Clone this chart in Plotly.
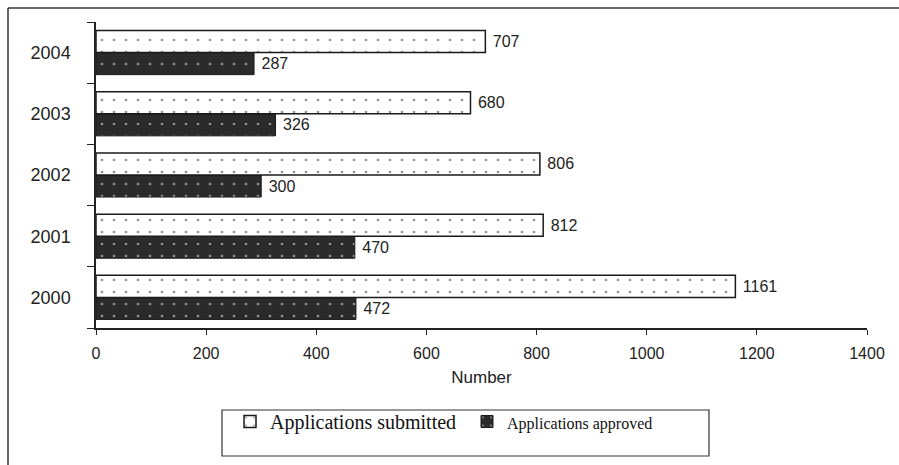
import plotly.graph_objects as go

years = ["2000", "2001", "2002", "2003", "2004"]
submitted = [1161, 812, 806, 680, 707]
approved = [472, 470, 300, 326, 287]
x_ticks = [0, 200, 400, 600, 800, 1000, 1200, 1400]

W, H = 899, 465
L, R, T, B = 96, 32, 22, 137
pw, ph = W - L - R, H - T - B

def px(x):
    return (x - L) / pw

def py(y):
    return (H - B - y) / ph

label_font = dict(family="Liberation Sans, Arial", size=16, color="#222")

fig = go.Figure()
fig.add_trace(go.Bar(
    y=years, x=approved, orientation="h",
    name="<span style='font-size:16px'>Applications approved</span>",
    marker=dict(color="#2b2b2b", line=dict(color="#1a1a1a", width=1),
                pattern=dict(shape=".", fgcolor="white", fillmode="overlay", size=12, solidity=0.04)),
    text=approved, texttemplate=" %{text}", textposition="outside", cliponaxis=False,
    textfont=label_font,
    legendrank=2,
))
fig.add_trace(go.Bar(
    y=years, x=submitted, orientation="h", name="Applications submitted",
    marker=dict(color="white", line=dict(color="#1a1a1a", width=1.5),
                pattern=dict(shape=".", fgcolor="#222", fillmode="overlay", size=12, solidity=0.04)),
    text=submitted, texttemplate=" %{text}", textposition="outside", cliponaxis=False,
    textfont=label_font,
    legendrank=1,
))

fig.update_layout(
    width=W, height=H,
    margin=dict(l=L, r=R, t=T, b=B, autoexpand=False),
    paper_bgcolor="white", plot_bgcolor="white",
    barmode="group", bargap=0.28, bargroupgap=0,
    font=dict(family="Liberation Sans, Arial", size=15, color="#222"),
    xaxis=dict(range=[0, 1400], tickvals=x_ticks, showgrid=False, zeroline=False,
               showline=True, linecolor="#222", linewidth=1.5, ticks="outside", ticklen=5,
               tickcolor="#222", tickfont=dict(size=16), ticklabelstandoff=5,
               title=dict(text="Number", font=dict(size=17), standoff=10)),
    yaxis=dict(type="category", range=[-0.5, 4.5], showgrid=False, zeroline=False,
               showline=True, linecolor="#222", linewidth=1.5, ticks="outside", ticklen=7,
               tickson="boundaries", tickcolor="#222", tickfont=dict(size=18), ticklabelstandoff=20),
    showlegend=True,
    legend=dict(orientation="h", x=px(230), y=py(402), xanchor="left", yanchor="top",
                bgcolor="rgba(0,0,0,0)", borderwidth=0,
                font=dict(family="Liberation Serif, Times New Roman", size=20, color="#111"),
                entrywidth=192, entrywidthmode="pixels"),
    shapes=[
        dict(type="line", xref="paper", yref="paper", x0=px(8), x1=px(899), y0=py(8), y1=py(8),
             line=dict(color="#333", width=1.5)),
        dict(type="line", xref="paper", yref="paper", x0=px(8), x1=px(8), y0=py(8), y1=py(465),
             line=dict(color="#333", width=1.5)),
        dict(type="rect", xref="paper", yref="paper", x0=px(222), x1=px(709), y0=py(410), y1=py(456),
             line=dict(color="#333", width=1.2), fillcolor="rgba(0,0,0,0)"),
    ],
)

fig.write_html("out.html", config={"displayModeBar": False})

with open("out.html", "r", encoding="utf-8") as f:
    html = f.read()
html = html.replace("<head>", "<head><style>html,body{margin:0;padding:0;overflow:hidden;}</style>", 1)
with open("out.html", "w", encoding="utf-8") as f:
    f.write(html)
